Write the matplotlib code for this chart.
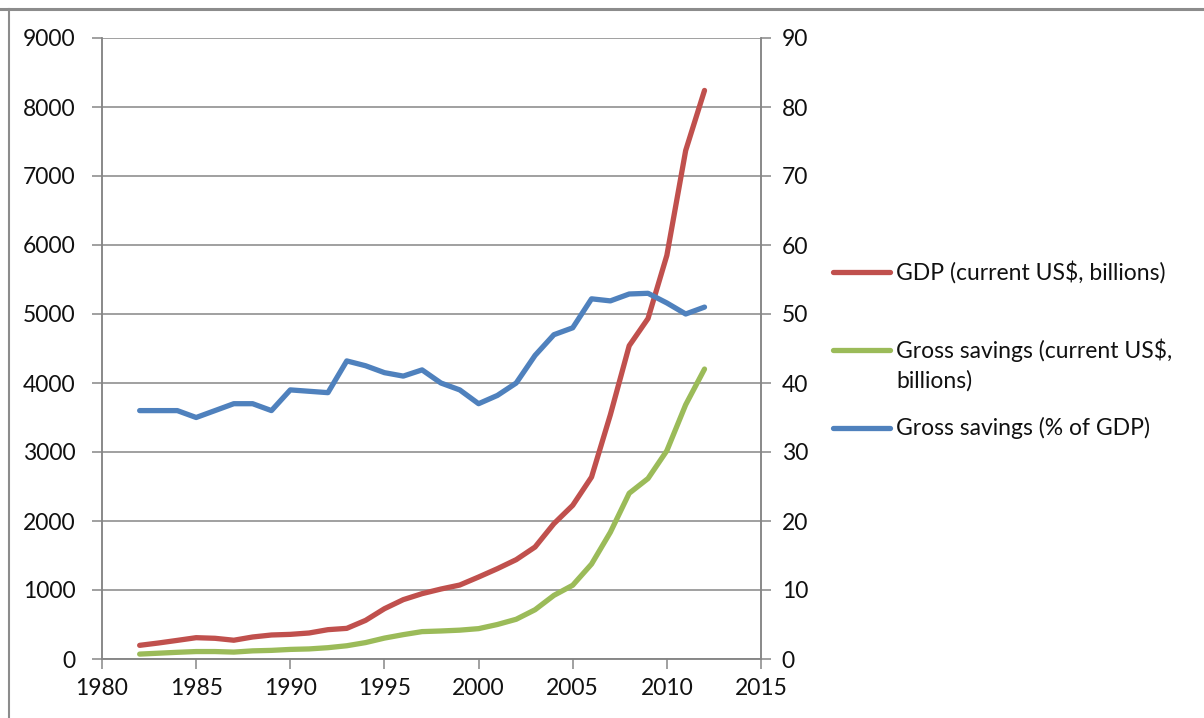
import matplotlib
matplotlib.use("Agg")
import matplotlib.pyplot as plt
from matplotlib.lines import Line2D

plt.rcParams['font.family'] = ['Lato', 'DejaVu Sans']

years = list(range(1982, 2013))
gdp = [198, 232, 270, 309, 300, 272, 319, 348, 357, 377, 425, 444, 560, 729, 860,
       947, 1014, 1072, 1188, 1309, 1440, 1623, 1961, 2227, 2637, 3540, 4540, 4935,
       5850, 7370, 8240]
savings = [71, 84, 97, 108, 108, 100, 118, 125, 139, 146, 164, 192, 238, 303, 353,
           397, 406, 418, 440, 500, 576, 714, 922, 1069, 1376, 1837, 2402, 2616,
           3019, 3685, 4202]
savings_pct = [36, 36, 36, 35, 36, 37, 37, 36, 39, 38.8, 38.6, 43.2, 42.5, 41.5, 41.0,
               41.9, 40.0, 39.0, 37.0, 38.2, 40.0, 44.0, 47.0, 48.0, 52.2, 51.9, 52.9,
               53.0, 51.6, 50.0, 51.0]
labels = [["GDP (current US$, billions)"],
          ["Gross savings (current US$,", "billions)"],
          ["Gross savings (% of GDP)"]]
colors = ["#C0504D", "#9BBB59", "#4F81BD"]

W, H = 1204, 718
fig = plt.figure(figsize=(W / 100, H / 100), dpi=100)
ax = fig.add_axes([102 / W, 1 - 659 / H, (761 - 102) / W, (659 - 38) / H])
ax2 = ax.twinx()

grid_c = "#868686"
txt_c = "#111111"
fs = 16.5
lw = 3.8
ax.plot(years, gdp, color=colors[0], lw=lw, solid_joinstyle='round', solid_capstyle='round', zorder=3)
ax.plot(years, savings, color=colors[1], lw=lw, solid_joinstyle='round', solid_capstyle='round', zorder=3)
ax2.plot(years, savings_pct, color=colors[2], lw=lw, solid_joinstyle='round', solid_capstyle='round', zorder=3)

ax.set_xlim(1980, 2015)
ax.set_ylim(0, 9000)
ax2.set_ylim(0, 90)
ax.set_xticks(range(1980, 2016, 5))
ax.set_yticks(range(0, 9001, 1000))
ax2.set_yticks(range(0, 91, 10))

ax.yaxis.grid(True, color=grid_c, lw=1.1)
ax.set_axisbelow(True)
for a in (ax, ax2):
    for s in a.spines.values():
        s.set_color(grid_c)
        s.set_linewidth(1.1)
    a.spines['top'].set_visible(False)
    a.tick_params(colors=grid_c, labelcolor=txt_c, labelsize=fs, length=7, width=1.1)
ax.tick_params(axis='x', pad=7)
ax.tick_params(axis='y', pad=12)
ax2.tick_params(axis='y', pad=8)

# legend (manual)
ly = [272, 350, 428]
for c, lab, y in zip(colors, labels, ly):
    fig.add_artist(Line2D([833 / W, 890 / W], [1 - y / H, 1 - y / H], color=c, lw=lw,
                          solid_capstyle='round'))
    for i, line in enumerate(lab):
        fig.text(896 / W, 1 - (y + 31 * i) / H, line, fontsize=fs, color=txt_c,
                 va='center', ha='left')

# outer frame lines
fig.add_artist(Line2D([0, 1], [1 - 9 / H, 1 - 9 / H], color="#8c8c8c", lw=2.2))
fig.add_artist(Line2D([9 / W, 9 / W], [0, 1 - 9 / H], color="#8c8c8c", lw=1.5))

fig.savefig("out.png", dpi=100)
